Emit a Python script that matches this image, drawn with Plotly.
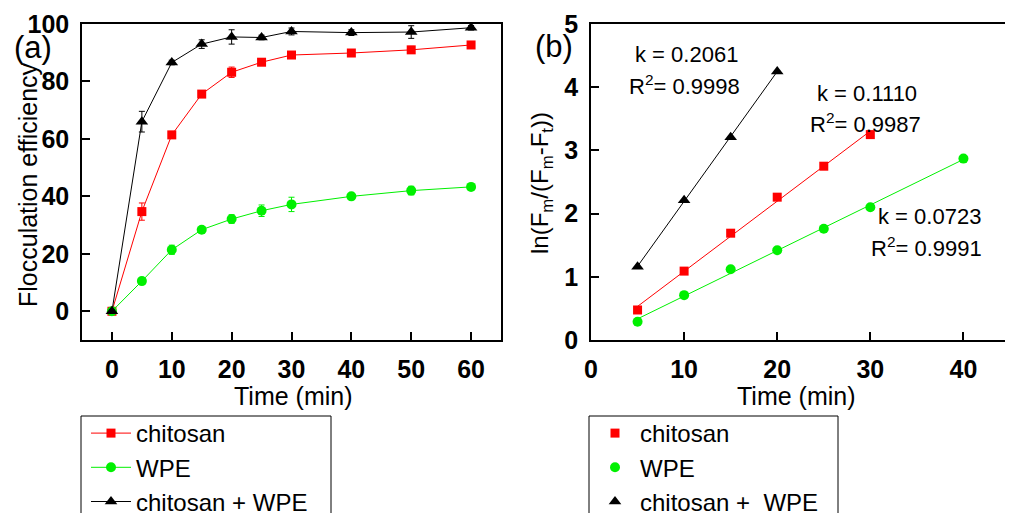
import numpy as np
import plotly.graph_objects as go

# the page body adds an 8px margin; work in reference-pixel coordinates and shift
OFF = 8
W, H = 1013 - OFF, 513 - OFF
def px(x): return (x - OFF) / W
def py(y): return 1 - (y - OFF) / H

# ---------------- data: panel (a) ----------------
time_a = [0, 5, 10, 15, 20, 25, 30, 40, 50, 60]
chitosan_a = [0, 34.7, 61.4, 75.6, 83.2, 86.7, 89.2, 89.9, 91.0, 92.7]
chitosan_err = [0.5, 3.0, 1.2, 1.0, 1.8, 1.0, 0.8, 0.8, 1.2, 1.2]
wpe_a = [0, 10.5, 21.4, 28.4, 32.1, 35.0, 37.2, 40.0, 42.0, 43.3]
wpe_err = [0.5, 0.8, 1.6, 0.8, 1.5, 2.0, 2.5, 1.0, 1.5, 0.8]
mix_a = [0, 66.0, 86.6, 93.0, 95.5, 95.3, 97.4, 97.0, 97.2, 98.7]
mix_err = [0.5, 3.6, 0.8, 1.5, 2.5, 0.8, 1.2, 1.0, 2.2, 0.8]

# ---------------- data: panel (b) ----------------
time_mix_b = [5, 10, 15, 20]
mix_b = [1.16, 2.21, 3.21, 4.25]
time_chi_b = [5, 10, 15, 20, 25, 30]
chitosan_b = [0.475, 1.09, 1.69, 2.26, 2.75, 3.25]
time_wpe_b = [5, 10, 15, 20, 25, 30, 40]
wpe_b = [0.29, 0.71, 1.12, 1.42, 1.76, 2.10, 2.87]

xticks_a = [0, 10, 20, 30, 40, 50, 60]
yticks_a = [0, 20, 40, 60, 80, 100]
xticks_b = [0, 10, 20, 30, 40]
yticks_b = [0, 1, 2, 3, 4, 5]

RED, GREEN, BLACK = "#ff0000", "#00f000", "#000000"
FONT = "Arial, Liberation Sans, sans-serif"

fig = go.Figure()

def err(arr, color):
    return dict(type="data", array=arr, visible=True, color=color, thickness=1, width=3)

fig.add_trace(go.Scatter(x=time_a, y=chitosan_a, mode="lines+markers", name="chitosan",
                         line=dict(color=RED, width=1), marker=dict(symbol="square", size=9, color=RED),
                         error_y=err(chitosan_err, RED), xaxis="x", yaxis="y", legend="legend"))
fig.add_trace(go.Scatter(x=time_a, y=wpe_a, mode="lines+markers", name="WPE",
                         line=dict(color=GREEN, width=1), marker=dict(symbol="circle", size=10, color=GREEN),
                         error_y=err(wpe_err, GREEN), xaxis="x", yaxis="y", legend="legend"))
fig.add_trace(go.Scatter(x=time_a, y=mix_a, mode="lines+markers", name="chitosan + WPE",
                         line=dict(color=BLACK, width=1), marker=dict(symbol="triangle-up", size=11, color=BLACK),
                         error_y=err(mix_err, BLACK), xaxis="x", yaxis="y", legend="legend"))

# panel b: fit lines from linear regression of the data
for xs, ys, c in [(time_mix_b, mix_b, BLACK), (time_chi_b, chitosan_b, RED), (time_wpe_b, wpe_b, GREEN)]:
    p = np.polyfit(xs, ys, 1)
    xx = np.array([xs[0], xs[-1]])
    fig.add_trace(go.Scatter(x=xx, y=np.polyval(p, xx), mode="lines", line=dict(color=c, width=1),
                             showlegend=False, xaxis="x2", yaxis="y2", hoverinfo="skip"))

fig.add_trace(go.Scatter(x=time_chi_b, y=chitosan_b, mode="markers", name="chitosan",
                         marker=dict(symbol="square", size=9, color=RED), xaxis="x2", yaxis="y2", legend="legend2"))
fig.add_trace(go.Scatter(x=time_wpe_b, y=wpe_b, mode="markers", name="WPE",
                         marker=dict(symbol="circle", size=10, color=GREEN), xaxis="x2", yaxis="y2", legend="legend2"))
fig.add_trace(go.Scatter(x=time_mix_b, y=mix_b, mode="markers", name="chitosan +  WPE",
                         marker=dict(symbol="triangle-up", size=11, color=BLACK), xaxis="x2", yaxis="y2", legend="legend2"))

axis_common = dict(showline=True, linecolor="black", linewidth=1.5, mirror=True, ticks="inside",
                   ticklen=8, tickwidth=1.5, tickcolor="black", showgrid=False, zeroline=False,
                   automargin=False,
                   tickfont=dict(family=FONT, size=25, color="black", weight="bold"))

fig.update_layout(
    width=W, height=H, margin=dict(l=0, r=0, t=0, b=0, autoexpand=False),
    paper_bgcolor="white", plot_bgcolor="white",
    xaxis=dict(domain=[px(82), px(501)], range=[-5, 65], tickvals=xticks_a, anchor="y",
               ticklabelstandoff=6, **axis_common),
    yaxis=dict(domain=[py(340), py(24)], range=[-10, 100], tickvals=yticks_a, anchor="x",
               ticklabelstandoff=6, **axis_common),
    xaxis2=dict(domain=[px(591), px(1010)], range=[0, 45], tickvals=xticks_b, anchor="y2",
                ticklabelstandoff=6, **axis_common),
    yaxis2=dict(domain=[py(340), py(24)], range=[0, 5], tickvals=yticks_b, anchor="x2",
                ticklabelstandoff=6, **axis_common),
    legend=dict(x=px(86), y=py(411), xanchor="left", yanchor="top", bgcolor="rgba(0,0,0,0)",
                font=dict(family=FONT, size=24, color="black"), tracegroupgap=0, itemwidth=40),
    legend2=dict(x=px(590), y=py(411), xanchor="left", yanchor="top", bgcolor="rgba(0,0,0,0)",
                 font=dict(family=FONT, size=24, color="black"), tracegroupgap=0, itemwidth=40),
    showlegend=True,
)

# legend frames
fig.add_shape(type="rect", xref="paper", yref="paper", x0=px(81), x1=px(331), y0=py(540), y1=py(416),
              line=dict(color="black", width=1))
fig.add_shape(type="rect", xref="paper", yref="paper", x0=px(589), x1=px(838), y0=py(540), y1=py(416),
              line=dict(color="black", width=1))

def ann(text, x, y, size=22, angle=0):
    fig.add_annotation(text=text, x=px(x), y=py(y), xref="paper", yref="paper", showarrow=False,
                       xanchor="center", yanchor="middle", textangle=angle,
                       font=dict(family=FONT, size=size, color="black"))

ann("(a)", 33, 48, size=31)
ann("(b)", 554, 47, size=31)
ann("Flocculation efficiency", 28, 185, size=25, angle=-90)
ann("ln(F<sub>m</sub>/(F<sub>m</sub>-F<sub>t</sub>))", 541, 183, size=24, angle=-90)
ann("Time (min)", 293, 396, size=25)
ann("Time (min)", 796, 396, size=25)
ann("k = 0.2061", 686, 55)
ann("R<sup>2</sup>= 0.9998", 684, 85)
ann("k = 0.1110", 867, 93)
ann("R<sup>2</sup>= 0.9987", 865, 123)
ann("k = 0.0723", 929, 217)
ann("R<sup>2</sup>= 0.9991", 926, 247)

fig.write_html("out.html")
